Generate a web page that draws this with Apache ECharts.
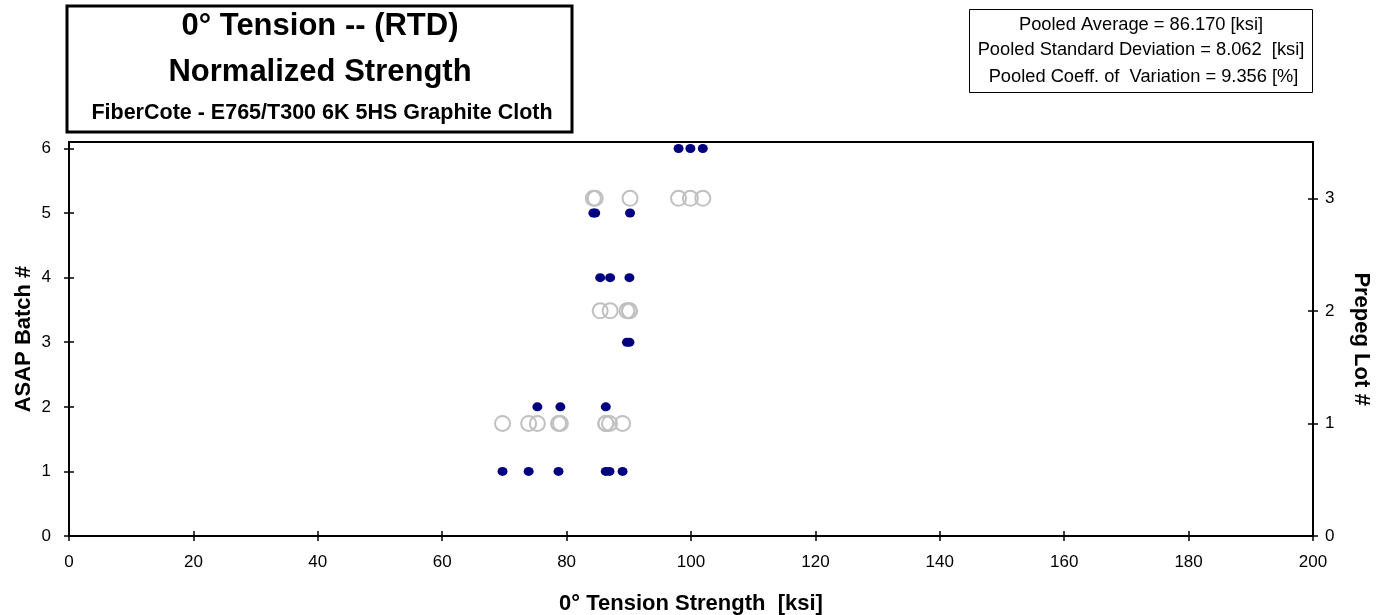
<!DOCTYPE html>
<html>
<head>
<meta charset="utf-8">
<script src="https://cdn.jsdelivr.net/npm/echarts@6/dist/echarts.min.js"></script>
<style>
  html, body { margin: 0; padding: 0; background: #fff; }
  #chart { width: 1378px; height: 615px; }
</style>
</head>
<body>
<div id="chart"></div>
<script>
// Normalized 0° tension strength [ksi] per ASAP batch
const batch1 = [69.7, 73.9, 78.7, 86.3, 86.9, 89.0];
const batch2 = [75.3, 79.0, 86.3];
const batch3 = [89.7, 90.1];
const batch4 = [85.4, 87.0, 90.1];
const batch5 = [84.3, 84.6, 90.2];
const batch6 = [98.0, 99.9, 101.9];

// Prepreg lots group the batches: lot 1 = batches 1-2, lot 2 = 3-4, lot 3 = 5-6
const lot1 = [69.7, 73.9, 78.7, 86.3, 86.9, 89.0, 75.3, 79.0, 86.3];
const lot2 = [89.7, 90.1, 85.4, 87.0, 90.1];
const lot3 = [84.3, 84.6, 90.2, 98.0, 99.9, 101.9];

const batchRows = [1, 2, 3, 4, 5, 6];
const lotRows = [1, 2, 3];

const batchTicks = [0, 1, 2, 3, 4, 5, 6];
const lotTicks = [0, 1, 2, 3];

const statsLines = [
  'Pooled Average = 86.170 [ksi]',
  'Pooled Standard Deviation = 8.062  [ksi]',
  ' Pooled Coeff. of  Variation = 9.356 [%]'
];
const titleLines = [
  '0° Tension -- (RTD)',
  'Normalized Strength',
  'FiberCote - E765/T300 6K 5HS Graphite Cloth'
];

const FONT = '"Liberation Sans", Arial, sans-serif';

function pairs(values, row) {
  return values.map(v => [v, row]);
}
const batchData = [batch1, batch2, batch3, batch4, batch5, batch6]
  .flatMap((vals, i) => pairs(vals, batchRows[i]));
const lotData = [lot1, lot2, lot3]
  .flatMap((vals, i) => pairs(vals, lotRows[i]));

const chart = echarts.init(document.getElementById('chart'), null, { renderer: 'canvas' });

const axisLineStyle = { color: '#000', width: 2 };
const tickStyle = { color: '#000', width: 1.5 };
const labelStyle = { color: '#000', fontFamily: FONT, fontSize: 17 };
const nameStyle = { color: '#000', fontFamily: FONT, fontSize: 22, fontWeight: 'bold' };

// Each axis is paired with a twin that draws the inward half of the cross ticks
function xAxisPair() {
  const base = {
    type: 'value', position: 'bottom', min: 0, max: 200, interval: 20,
    splitLine: { show: false }
  };
  return [
    Object.assign({}, base, {
      name: '0° Tension Strength  [ksi]',
      nameLocation: 'middle', nameGap: 57, nameMoveOverlap: false,
      nameTextStyle: nameStyle,
      axisLine: { lineStyle: axisLineStyle },
      axisTick: { length: 5, lineStyle: tickStyle },
      axisLabel: Object.assign({ margin: 18 }, labelStyle)
    }),
    Object.assign({}, base, {
      axisLine: { show: false },
      axisTick: { inside: true, length: 5, lineStyle: tickStyle },
      axisLabel: { show: false }
    })
  ];
}

function yAxisPair(pos, max, ticks, name, nameRotate, nameGap, labelMargin) {
  const base = {
    type: 'value', position: pos, min: 0, max: max, interval: 1,
    splitLine: { show: false }
  };
  return [
    Object.assign({}, base, {
      name: name, nameLocation: 'middle', nameGap: nameGap, nameRotate: nameRotate,
      nameMoveOverlap: false,
      nameTextStyle: nameStyle,
      axisLine: { show: true, lineStyle: axisLineStyle },
      axisTick: { show: true, length: 5, lineStyle: tickStyle, customValues: ticks },
      axisLabel: Object.assign({ margin: labelMargin, customValues: ticks }, labelStyle)
    }),
    Object.assign({}, base, {
      axisLine: { show: false },
      axisTick: { show: true, inside: true, length: 5, lineStyle: tickStyle, customValues: ticks },
      axisLabel: { show: false, customValues: ticks }
    })
  ];
}

const option = {
  backgroundColor: '#fff',
  animation: false,
  grid: {
    left: 69, right: 65, top: 142, bottom: 79,
    outerBoundsMode: 'none', containLabel: false,
    show: true, borderColor: '#000', borderWidth: 2, backgroundColor: 'transparent'
  },
  xAxis: xAxisPair(),
  yAxis: [
    ...yAxisPair('left', 6.1, batchTicks, 'ASAP Batch #', 90, 34, 18),
    ...yAxisPair('right', 3.5, lotTicks, 'Prepeg Lot #', -90, 37, 12)
  ],
  series: [
    {
      name: 'Prepreg Lot', type: 'scatter', xAxisIndex: 0, yAxisIndex: 2,
      data: lotData, symbol: 'circle', symbolSize: 15,
      itemStyle: { color: 'rgba(255,255,255,0)', borderColor: '#c0c0c0', borderWidth: 2, opacity: 1 },
      z: 3
    },
    {
      name: 'ASAP Batch', type: 'scatter', xAxisIndex: 0, yAxisIndex: 0,
      data: batchData, symbol: 'circle', symbolSize: [10, 9],
      itemStyle: { color: '#000080', opacity: 1 },
      z: 4
    }
  ],
  graphic: [
    {
      type: 'rect', shape: { x: 67, y: 6, width: 505, height: 126 },
      style: { fill: '#fff', stroke: '#000', lineWidth: 3 }, z: 10
    },
    {
      type: 'text', x: 320, y: 26, z: 11,
      style: { text: titleLines[0], fill: '#000', font: 'bold 31px ' + FONT, align: 'center', verticalAlign: 'middle' }
    },
    {
      type: 'text', x: 320, y: 72, z: 11,
      style: { text: titleLines[1], fill: '#000', font: 'bold 31px ' + FONT, align: 'center', verticalAlign: 'middle' }
    },
    {
      type: 'text', x: 322, y: 113, z: 11,
      style: { text: titleLines[2], fill: '#000', font: 'bold 21.5px ' + FONT, align: 'center', verticalAlign: 'middle' }
    },
    {
      type: 'rect', shape: { x: 969.5, y: 9.5, width: 343, height: 83 },
      style: { fill: '#fff', stroke: '#000', lineWidth: 1 }, z: 10
    },
    {
      type: 'text', x: 1141, y: 25, z: 11,
      style: { text: statsLines[0], fill: '#000', font: '18.3px ' + FONT, align: 'center', verticalAlign: 'middle' }
    },
    {
      type: 'text', x: 1141, y: 50, z: 11,
      style: { text: statsLines[1], fill: '#000', font: '18.3px ' + FONT, align: 'center', verticalAlign: 'middle' }
    },
    {
      type: 'text', x: 1141, y: 77, z: 11,
      style: { text: statsLines[2], fill: '#000', font: '18.3px ' + FONT, align: 'center', verticalAlign: 'middle' }
    }
  ]
};

chart.setOption(option);
</script>
</body>
</html>
